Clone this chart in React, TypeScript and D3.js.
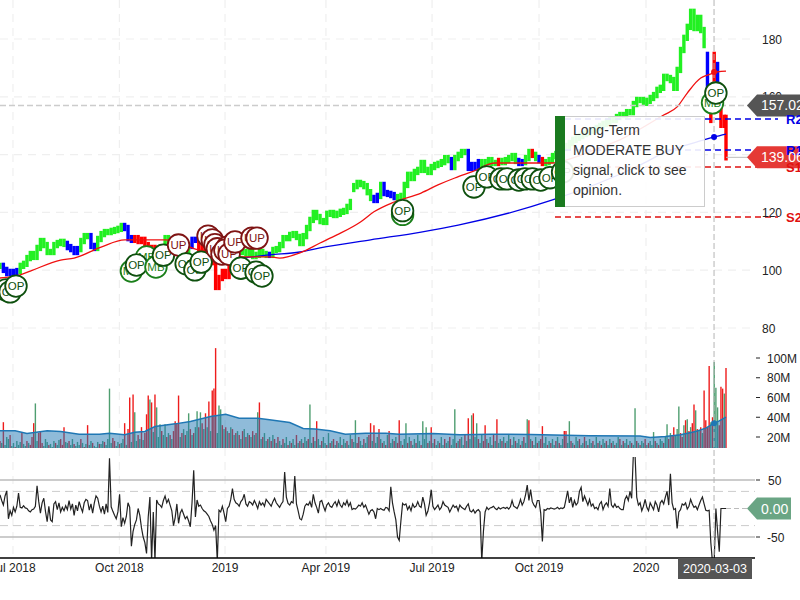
import { useEffect, useRef } from 'react';
import * as d3 from 'd3';

// closes are read every second trading day
const closes = [
  101.5,100.1,99.0,99.4,98.7,99.7,101.5,102.2,104.2,105.6,
  104.6,107.7,110.1,108.7,106.3,106.3,108.7,109.4,109.8,109.1,
  108.0,107.3,106.3,107.3,110.1,111.8,111.8,108.4,107.7,110.8,
  112.5,113.2,113.2,113.6,113.9,114.3,115.3,114.6,111.1,110.5,
  111.1,110.1,110.5,108.7,107.7,107.7,106.0,106.3,107.0,111.1,
  110.1,110.5,110.1,104.2,100.8,104.2,108.4,110.5,110.5,107.7,
  107,107,105.6,102.8,94.2,97.3,99.4,98,100.8,102.8,
  106.3,107,106.3,105.6,106.3,104.9,105.3,106.3,105.6,105.3,
  105.3,107,107.3,108.7,111.1,111.1,112.2,112.5,111.5,109.4,
  111.8,114.6,117.4,119.8,118.4,117,116.7,119.5,119.8,119.1,
  119.5,120.2,120.5,121.9,123.6,129.1,130.2,129.8,129.1,127,
  125,124.3,125.7,129.5,126.7,126.4,126,125.3,124.6,125.7,
  129.5,133,131.9,134,134.7,137.1,134.7,134,135.7,136.4,
  136.8,137.4,138.8,138.1,135.7,138.8,139.9,140.9,140.9,135.4,
  136.4,135.4,137.4,136.4,137.4,138.1,137.1,137.1,137.8,137.4,
  138.1,138.8,139.5,137.8,137.1,137.4,138.8,140.9,139.9,138.8,
  138.1,137.1,137.4,138.1,139.5,140.2,141.6,142.3,143,144,
  145.1,145.8,146.4,147.1,147.5,148.2,148.5,149.2,149.9,150.6,
  151.3,152,152,153,153.7,153.7,154.7,154.7,157.5,158.9,
  158.9,157.9,158.6,159.6,160.6,162.4,163.1,166.9,166.5,165.8,
  163.1,169.3,176.2,180.4,184.2,189.4,183.8,187.3,183.1,177.9,
  163.1,152,158.9,164.1,150.3,150.3,139.06,
];
// days that opened away from the previous close: [sample, open]
const gapOpens: [number, number][] = [
  [105, 128.1], [210, 174.5], [212, 174.5], [213, 171], [214, 158.9], [215, 152.7], [216, 152.7],
];
// trend colour changes: [first sample, colour]
const trendRuns: [number, string][] = [
  [0, 'g'], [1, 'b'], [6, 'g'], [20, 'b'], [24, 'g'], [27, 'b'], [29, 'g'], [37, 'b'], [40, 'r'], [49, 'g'],
  [51, 'b'], [53, 'r'], [56, 'g'], [57, 'b'], [59, 'r'], [70, 'g'], [80, 'b'], [81, 'g'], [111, 'b'], [113, 'g'],
  [114, 'b'], [118, 'g'], [134, 'b'], [135, 'g'], [139, 'b'], [143, 'g'], [148, 'r'], [149, 'g'], [154, 'b'],
  [156, 'g'], [158, 'r'], [159, 'g'], [160, 'b'], [161, 'r'], [162, 'g'], [210, 'b'], [211, 'r'], [213, 'b'], [214, 'r'],
];

const fastMaBars = [0,12,18,36,44,60,74,84,98,118,146,160,166,178,190,200,214,222,234,250,260,270,280,294,310,328,336,356,368,394,402,408,416,420,426,431];
const fastMa = [97.3,98.4,99.7,103.5,104.2,108,110.5,110.5,110.5,107,104.6,104.6,104.2,106,109.4,112.2,116.7,120.2,123.6,126.7,129.5,131.9,134,137.1,137.1,137.1,138.1,142.3,145.1,153.7,156.5,161.3,166.5,167.5,168.6,168.9];
const slowMaBars = [144,160,178,190,220,250,272,328,380,394,418,424,431];
const slowMa = [104.2,105.3,106.3,107.7,110.5,113.2,115.6,124.3,136.4,140.6,145.1,146.1,147.1];

// millions of shares, negative on down days
const signedVolumes = [
  -16,14,-35,12,20,18,-22,11,14,-10,16,12,15,-24,13,11,-16,14,-12,-20,
  -34,54,16,-24,-26,-14,11,18,15,-12,13,10,16,-14,12,17,-18,-12,-30,15,
  14,-16,12,18,-13,11,15,12,-18,14,-10,13,-32,12,16,-14,11,10,15,-13,
  13,16,-15,12,18,69,14,-19,-16,11,15,-13,14,18,-34,12,-28,-60,15,-63,
  45,16,-22,18,-30,17,-24,-43,-62,58,-55,25,-63,50,20,33,-26,22,33,-20,
  24,-22,18,-26,-36,-34,-62,20,-24,28,-22,26,44,-28,22,-24,30,46,-30,45,
  -34,28,-44,30,-56,26,-67,-69,-110,24,52,48,-32,28,-30,26,-24,30,-28,22,
  -24,26,-22,18,-26,28,-20,24,-22,20,-26,22,-24,45,-55,18,-20,24,16,-18,
  20,-16,22,-18,14,-20,16,12,-18,14,20,-12,16,-14,18,12,-22,14,-16,18,
  -14,20,16,-18,53,14,-20,16,-36,18,12,-16,20,14,-12,24,-14,16,-18,12,
  -16,14,20,-12,18,14,-16,12,22,-18,15,37,-14,-20,16,12,-18,14,20,-22,
  -34,16,-32,14,20,-28,18,-14,16,-12,22,-26,14,18,-16,20,-14,-37,16,-12,
  18,34,-14,20,-16,12,18,-14,22,16,-12,36,18,30,-14,16,-30,14,-18,12,
  16,-14,20,12,-18,14,16,-20,12,18,48,-14,16,-18,20,12,-22,16,-39,18,
  42,-44,20,34,-18,14,22,-16,-32,18,-14,20,12,-22,16,-38,14,18,-16,20,
  -14,16,22,-18,12,20,-16,14,18,-12,16,-20,14,38,-37,18,-16,12,20,-14,
  16,-18,-31,14,20,-12,16,-14,18,12,-16,20,-14,12,18,-26,-26,14,36,-16,
  14,-12,20,16,-18,12,14,-20,16,-12,18,14,-16,12,20,-14,16,-12,18,14,
  -16,12,18,-14,16,-12,14,20,-18,12,-16,14,18,-12,16,-14,12,49,-16,14,
  -12,16,14,-18,12,-14,16,12,25,-16,14,-12,18,16,-14,20,33,-18,24,-22,
  -30,22,28,51,-24,-20,32,-37,38,-26,30,-34,-53,47,-28,26,-30,24,-67,-37,
  -30,-92,35,-40,96,70,50,-32,-71,-69,64,-90,
];
const volumeMaBars = [0,9,16,28,36,47,59,65,74,80,86,92,104,113,125,134,142,153,160,172,180,187,196,205,217,229,237,257,273,291,315,350,380,386,395,404,413,419,424,427,431];
const volumeMa = [26.3,26.3,23.6,26.3,25.6,22.9,22.9,23.9,22.2,24.9,25.6,30.6,33.3,35.7,40.8,43.1,39.1,39.1,37.4,34.7,28.7,28,26.3,22.9,23.9,23.9,22.9,23.6,22.2,22.9,22.5,21.2,20.9,19.5,20.5,22.2,25.6,29,34,36.4,40.1];

const cci = [
  24,14,6,22,31,-18,-4,-12,2,-6,4,27,2,1,5,1,0,-4,-6,-2,
  -1,4,40,12,-8,10,18,-5,-23,4,-20,-23,8,12,-2,10,-6,2,-4,5,
  -2,14,-1,8,-12,6,-4,12,2,-6,10,16,14,-3,8,-8,10,22,18,4,
  -6,4,-10,8,-7,88,3,-5,-12,-18,-6,25,-32,-16,-26,-14,10,2,-66,-40,
  -28,-20,0,-12,-34,-50,-60,-79,-15,20,-92,-6,-92,15,8,6,2,14,22,10,
  16,6,-4,-30,-16,8,-26,-8,-2,-10,-18,-14,-22,-32,10,67,-15,15,4,6,
  0,-4,-6,-10,-14,-22,-28,-38,-30,-92,-3,-6,4,-8,-23,0,4,16,35,16,
  10,8,4,12,16,25,8,4,12,10,6,14,8,0,12,6,10,4,16,12,
  8,4,12,18,10,6,2,8,12,64,20,9,6,12,10,57,8,-4,-18,-20,
  -10,4,8,6,12,2,25,10,2,-8,12,14,4,-4,6,10,4,2,8,12,
  4,14,6,2,10,6,14,4,10,-2,0,-1,2,6,4,10,2,6,-2,-10,
  -4,-2,-6,-18,0,-2,0,-2,-3,2,1,-4,38,10,-6,-20,-50,-56,-22,9,
  6,8,-2,4,-4,8,2,4,12,4,2,20,8,-12,-5,10,33,4,-2,2,
  6,-2,2,12,6,4,2,-6,0,6,2,4,-4,6,2,0,-2,4,8,-4,
  -6,-2,-8,-4,-2,-6,-92,-40,-6,2,-2,1,2,4,0,-2,2,-1,1,2,
  0,2,-1,3,14,4,2,0,6,16,6,12,24,41,14,33,12,6,2,14,
  14,-8,-58,-2,-3,0,-1,1,0,-1,0,2,-1,1,0,2,16,31,10,20,
  2,14,6,10,30,37,12,22,14,6,16,4,8,0,2,-2,8,12,-2,6,
  10,4,35,6,2,8,2,4,0,-2,-2,16,22,14,30,18,95,95,20,6,
  10,-4,4,16,2,-4,10,4,-2,12,6,-6,10,14,8,20,30,6,61,10,
  -2,0,-35,-6,-2,8,6,10,-1,4,16,8,2,4,-2,6,14,20,8,-3,
  -4,-3,-60,-95,-92,0,-40,-76,0,0,0,0,
];

const signalBars = [3.5,6,9.5,78,87,81,92.6,97,106,110.5,115.7,119.4,123.5,126,127.6,129,135,131.8,133.5,136,139.5,149.6,152.6,143,152,155.5,239,239,281.4,289,297.4,301,308,311.7,316,321,326.5,334,423,425];
const signalPrices = [93.2,92.5,94.5,99.7,104.6,101.8,101.1,105.2,108.7,102.2,100.1,102.8,111.8,110.5,108.8,107.4,108,105.6,106.9,105.5,109.8,111.1,111.1,100.7,99.3,98,119.3,120.6,128.8,132.3,131.6,131.6,131.2,131.6,131.6,131.2,132,134,157.9,161.3];
const signalLabels = ['OP','OP','OP','MB','MB','OP','MB','OP','UP','OP','OP','OP','UP','UP','UP','UP','UP','UP','UP','UP','UP','UP','UP','OP','OP','OP','MB','OP','OP','OP','OP','OP','OP','OP','OP','OP','OP','OP','MB','OP'];

const priceTicks = [80, 100, 120, 160, 180];
const priceGrid = [80, 100, 120, 140, 160, 180];
const volumeTicks = [20, 40, 60, 80, 100];
const cciTicks = [-50, 50];
const cciBands = [-30, 30];
const dateLabels = ['Jul 2018', 'Oct 2018', '2019', 'Apr 2019', 'Jul 2019', 'Oct 2019', '2020'];
const dateBars = [7.7, 70.9, 133.6, 193.5, 256.5, 320, 383.5];

const pivotNames = ['R2', 'R1', 'S1', 'S2'];
const pivotLevels = [152.3, 141.6, 135.7, 118.4];
const opinionLines = ['Long-Term', 'MODERATE BUY', 'signal, click to see', 'opinion.'];

const trendColors: Record<string, string> = { g: '#22f022', b: '#0000ff', r: '#ff0000' };
const signalColors: Record<string, string> = { OP: '#0e500e', MB: '#1a7f1a', UP: '#7f1414' };

const App = () => {
  const chartRef = useRef<SVGSVGElement>(null);

  useEffect(() => {
    if (!chartRef.current) return;

    const svg = d3.select(chartRef.current);
    svg.selectAll('*').remove();
    svg.style('font-family', '"Liberation Sans", Arial, sans-serif');

    const lastBar = signedVolumes.length - 1;
    const x = d3.scaleLinear().domain([0, lastBar]).range([0, 726]);
    const yPrice = d3.scaleLinear().domain([80, 180]).range([328, 39]);
    const yVolume = d3.scaleLinear().domain([20, 100]).range([437, 358]);
    const yCci = d3.scaleLinear().domain([-50, 50]).range([537, 480]);

    const selectedBar = 423.9;
    const xSelected = x(selectedBar);
    const axisRight = 755;
    const volumeFloor = 448;
    const axisY = 558;

    // grid
    const grid = svg.append('g').attr('fill', 'none').attr('stroke', '#efefef').attr('stroke-width', 1.2).attr('stroke-dasharray', '8,6');
    dateBars.forEach((d) => grid.append('line').attr('x1', x(d)).attr('x2', x(d)).attr('y1', 0).attr('y2', axisY));
    priceGrid.forEach((d) => grid.append('line').attr('x1', 0).attr('x2', axisRight).attr('y1', yPrice(d)).attr('y2', yPrice(d)));

    // volume pane, the average sits over the bars
    const volumeClip = svg.append('clipPath').attr('id', 'volume-clip');
    volumeClip.append('rect').attr('x', 0).attr('y', 340).attr('width', 800).attr('height', volumeFloor - 340);
    const volumePane = svg.append('g').attr('clip-path', 'url(#volume-clip)');
    signedVolumes.forEach((v, i) => {
      volumePane
        .append('line')
        .attr('x1', x(i))
        .attr('x2', x(i))
        .attr('y1', yVolume(Math.abs(v)))
        .attr('y2', volumeFloor)
        .attr('stroke', v < 0 ? '#ee1c1c' : '#4f9e70')
        .attr('stroke-width', 1.4);
    });
    const volumeArea = d3
      .area<number>()
      .x((_, i) => x(volumeMaBars[i]))
      .y0(volumeFloor)
      .y1((d) => yVolume(d));
    volumePane.append('path').attr('d', volumeArea(volumeMa)).attr('fill', '#1f77b4').attr('opacity', 0.5);
    const volumeLine = d3
      .line<number>()
      .x((_, i) => x(volumeMaBars[i]))
      .y((d) => yVolume(d));
    volumePane.append('path').attr('d', volumeLine(volumeMa)).attr('fill', 'none').attr('stroke', '#1f77b4').attr('stroke-width', 1.5);

    // cci pane
    cciTicks.forEach((d) => {
      svg.append('line').attr('x1', 0).attr('x2', axisRight).attr('y1', yCci(d)).attr('y2', yCci(d)).attr('stroke', '#bbb').attr('stroke-width', 1.5);
    });
    cciBands.forEach((d) => {
      svg.append('line').attr('x1', 0).attr('x2', axisRight).attr('y1', yCci(d)).attr('y2', yCci(d)).attr('stroke', '#ccc').attr('stroke-dasharray', '8,5');
    });
    const cciClip = svg.append('clipPath').attr('id', 'cci-clip');
    cciClip.append('rect').attr('x', 0).attr('y', 457).attr('width', 800).attr('height', axisY - 457);
    const cciLine = d3
      .line<number>()
      .x((_, i) => x(i))
      .y((d) => yCci(d));
    svg.append('path').attr('clip-path', 'url(#cci-clip)').attr('d', cciLine(cci)).attr('fill', 'none').attr('stroke', '#222').attr('stroke-width', 1.2);

    // price bars
    const sampleBar = (k: number) => Math.min(k * 2, lastBar);
    const colorAt = (k: number) => {
      let c = 'g';
      trendRuns.forEach(([from, name]) => {
        if (k >= from) c = name;
      });
      return trendColors[c];
    };
    const gaps = new Map(gapOpens);
    closes.forEach((c, k) => {
      const open = gaps.get(k) ?? (k > 0 ? closes[k - 1] : c);
      svg
        .append('line')
        .attr('x1', x(sampleBar(k)))
        .attr('x2', x(sampleBar(k)))
        .attr('y1', yPrice(Math.max(open, c) + 1.1))
        .attr('y2', yPrice(Math.min(open, c) - 1.1))
        .attr('stroke', colorAt(k))
        .attr('stroke-width', 3.4);
    });

    // moving averages
    const fastLine = d3.line<number>().x((_, i) => x(fastMaBars[i])).y((d) => yPrice(d)).curve(d3.curveMonotoneX);
    const slowLine = d3.line<number>().x((_, i) => x(slowMaBars[i])).y((d) => yPrice(d)).curve(d3.curveMonotoneX);
    svg.append('path').attr('d', slowLine(slowMa)).attr('fill', 'none').attr('stroke', '#0000e6').attr('stroke-width', 1.3);
    svg.append('path').attr('d', fastLine(fastMa)).attr('fill', 'none').attr('stroke', '#f01010').attr('stroke-width', 1.3);

    // pivots
    pivotLevels.forEach((d, i) => {
      svg
        .append('line')
        .attr('x1', 555)
        .attr('x2', 778)
        .attr('y1', yPrice(d))
        .attr('y2', yPrice(d))
        .attr('stroke', pivotNames[i][0] === 'R' ? '#0000e6' : '#e01010')
        .attr('stroke-width', 1.5)
        .attr('stroke-dasharray', '6,4');
    });

    // crosshair
    const crossColor = '#b5b5b5';
    svg.append('line').attr('x1', xSelected).attr('x2', xSelected).attr('y1', 0).attr('y2', axisY).attr('stroke', crossColor).attr('stroke-dasharray', '6,3');
    svg.append('line').attr('x1', 0).attr('x2', 748).attr('y1', yPrice(157.02)).attr('y2', yPrice(157.02)).attr('stroke', '#ccc').attr('stroke-width', 1.5).attr('stroke-dasharray', '6,3');
    svg.append('line').attr('x1', x(lastBar)).attr('x2', 748).attr('y1', yPrice(139.06)).attr('y2', yPrice(139.06)).attr('stroke', '#bbb');
    svg.append('line').attr('x1', x(lastBar)).attr('x2', 748).attr('y1', yCci(0)).attr('y2', yCci(0)).attr('stroke', '#bbb').attr('stroke-dasharray', '5,3');
    svg.append('circle').attr('cx', xSelected).attr('cy', yPrice(146.1)).attr('r', 3).attr('fill', '#0000e6');
    svg.append('circle').attr('cx', xSelected).attr('cy', yPrice(168.6)).attr('r', 3).attr('fill', '#f01010');
    svg.append('circle').attr('cx', xSelected).attr('cy', yVolume(34)).attr('r', 3).attr('fill', '#1f77b4');

    // opinion bubbles
    signalBars.forEach((b, i) => {
      const color = signalColors[signalLabels[i]];
      const g = svg.append('g').attr('transform', `translate(${x(b)},${yPrice(signalPrices[i])})`);
      g.append('circle').attr('r', 10.8).attr('fill', '#fff').attr('stroke', color).attr('stroke-width', 1.8);
      g.append('text').attr('text-anchor', 'middle').attr('dy', 4).attr('font-size', 11.5).attr('fill', color).text(signalLabels[i]);
    });

    // axes
    svg.append('line').attr('x1', 0).attr('x2', axisRight).attr('y1', axisY).attr('y2', axisY).attr('stroke', '#000').attr('stroke-width', 1.3);
    dateLabels.forEach((d, i) => {
      svg.append('text').attr('x', x(dateBars[i])).attr('y', 572).attr('text-anchor', 'middle').attr('font-size', 12).attr('fill', '#222').text(d);
    });
    priceTicks.forEach((d) => {
      svg.append('text').attr('x', 762).attr('y', yPrice(d) + 4.5).attr('font-size', 12).attr('fill', '#222').text(d);
    });
    volumeTicks.forEach((d) => {
      svg.append('line').attr('x1', 756).attr('x2', 760).attr('y1', yVolume(d)).attr('y2', yVolume(d)).attr('stroke', '#222');
      svg.append('text').attr('x', 767).attr('y', yVolume(d) + 4.5).attr('font-size', 12).attr('fill', '#222').text(`${d}M`);
    });
    cciTicks.forEach((d) => {
      svg.append('line').attr('x1', 756).attr('x2', 760).attr('y1', yCci(d)).attr('y2', yCci(d)).attr('stroke', '#222');
      svg.append('text').attr('x', d < 0 ? 767 : 768).attr('y', yCci(d) + 4.5).attr('font-size', 12).attr('fill', '#222').text(d);
    });

    // current value flags
    const flag = (value: number, y: d3.ScaleLinear<number, number>, color: string, right: number, h: number) => {
      const c = y(value);
      const points = [[747, c], [757, c - h], [right, c - h], [right, c + h], [757, c + h]];
      svg.append('polygon').attr('points', points.map((p) => p.join(',')).join(' ')).attr('fill', color);
    };
    const flagText = (label: string, value: number, y: d3.ScaleLinear<number, number>, tx: number) => {
      svg.append('text').attr('x', tx).attr('y', y(value) + 5).attr('font-size', 14).attr('fill', '#fff').text(label);
    };
    flag(157.02, yPrice, '#555', 802, 11);
    flagText('157.02', 157.02, yPrice, 761);
    flag(139.06, yPrice, '#e53935', 802, 11);
    pivotLevels.forEach((d, i) => {
      svg
        .append('text')
        .attr('x', 786)
        .attr('y', yPrice(d) + 5)
        .attr('font-size', 13)
        .attr('font-weight', 'bold')
        .attr('fill', pivotNames[i][0] === 'R' ? '#0000e6' : '#e01010')
        .text(pivotNames[i]);
    });
    flagText('139.06', 139.06, yPrice, 761);
    flag(0, yCci, '#6aa584', 791, 11);
    flagText('0.00', 0, yCci, 761);

    svg.append('rect').attr('x', 678).attr('y', axisY).attr('width', 74).attr('height', 21).attr('fill', '#555');
    svg.append('text').attr('x', 715).attr('y', 572.5).attr('text-anchor', 'middle').attr('font-size', 12.5).attr('fill', '#fff').text('2020-03-03');

    // opinion box
    svg.append('rect').attr('x', 555.5).attr('y', 116.5).attr('width', 149).attr('height', 90).attr('fill', '#fff').attr('fill-opacity', 0.9).attr('stroke', '#ccc');
    svg.append('rect').attr('x', 555).attr('y', 116).attr('width', 10).attr('height', 91).attr('fill', '#1a7a1f');
    opinionLines.forEach((d, i) => {
      svg.append('text').attr('x', 573).attr('y', 135 + i * 20).attr('font-size', 14).attr('fill', '#333').text(d);
    });
  }, []);

  return <svg ref={chartRef} width={800} height={600} style={{ position: 'absolute', left: 0, top: 0, background: '#fff' }}></svg>;
};

export default App;
